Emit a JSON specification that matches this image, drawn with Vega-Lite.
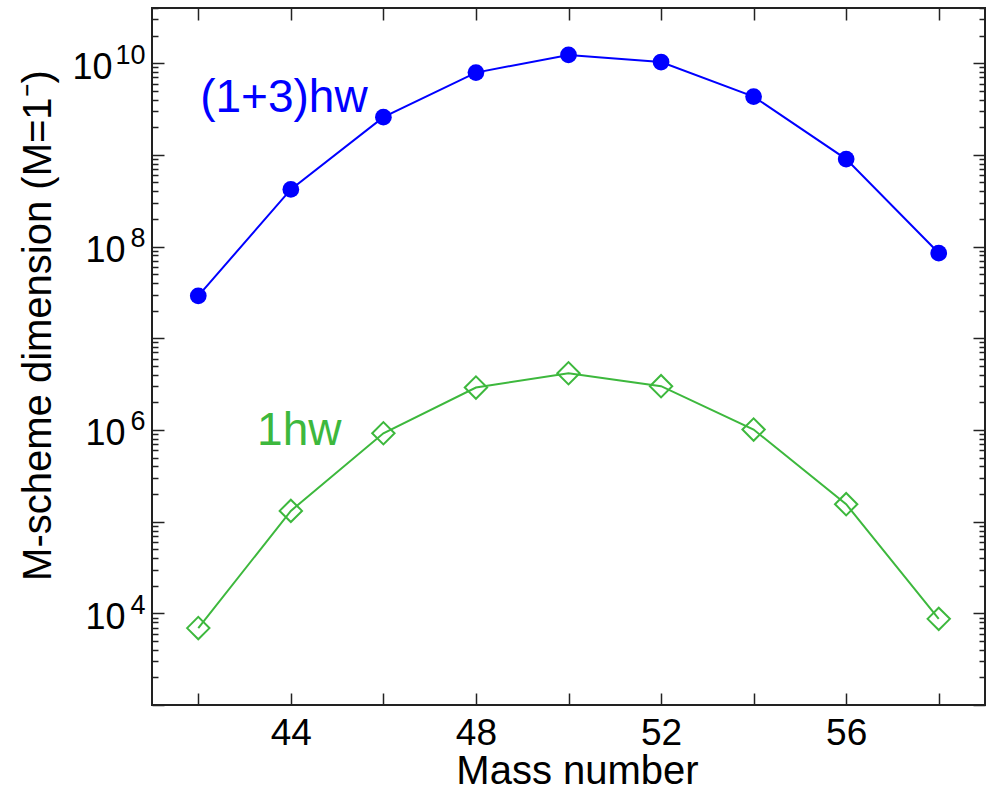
{
  "$schema": "https://vega.github.io/schema/vega-lite/v6.json",
  "width": 833,
  "height": 697,
  "autosize": {"type": "none"},
  "padding": {"left": 152, "top": 8, "right": 7, "bottom": 83},
  "background": "white",
  "datasets": {
    "dims": [
      {"A": 42, "dim": 2.9e7, "series": "(1+3)hw"},
      {"A": 44, "dim": 4.2e8, "series": "(1+3)hw"},
      {"A": 46, "dim": 2.58e9, "series": "(1+3)hw"},
      {"A": 48, "dim": 7.9e9, "series": "(1+3)hw"},
      {"A": 50, "dim": 1.23e10, "series": "(1+3)hw"},
      {"A": 52, "dim": 1.03e10, "series": "(1+3)hw"},
      {"A": 54, "dim": 4.32e9, "series": "(1+3)hw"},
      {"A": 56, "dim": 9.0e8, "series": "(1+3)hw"},
      {"A": 58, "dim": 8.5e7, "series": "(1+3)hw"},
      {"A": 42, "dim": 6.9e3, "series": "1hw"},
      {"A": 44, "dim": 1.31e5, "series": "1hw"},
      {"A": 46, "dim": 9.2e5, "series": "1hw"},
      {"A": 48, "dim": 2.9e6, "series": "1hw"},
      {"A": 50, "dim": 4.15e6, "series": "1hw"},
      {"A": 52, "dim": 3.0e6, "series": "1hw"},
      {"A": 54, "dim": 1.01e6, "series": "1hw"},
      {"A": 56, "dim": 1.55e5, "series": "1hw"},
      {"A": 58, "dim": 8.7e3, "series": "1hw"}
    ],
    "labels": [
      {"A": 42.04, "dim": 2.97e9, "series": "(1+3)hw", "text": "(1+3)hw"},
      {"A": 43.27, "dim": 6.85e5, "series": "1hw", "text": "1hw"}
    ]
  },
  "layer": [
    {
      "data": {"name": "dims"},
      "mark": {"type": "line", "strokeWidth": 2},
      "encoding": {
        "x": {
          "field": "A", "type": "quantitative",
          "scale": {"domain": [41, 59], "nice": false, "zero": false},
          "axis": {
            "orient": "bottom",
            "values": [42, 44, 46, 48, 50, 52, 54, 56, 58],
            "labelExpr": "datum.value % 4 == 0 ? datum.label : ''",
            "labelFontSize": 37,
            "tickSize": -12,
            "labelPadding": 22,
            "labelOverlap": false,
            "labelFlush": false,
            "title": "Mass number",
            "titleFontSize": 40,
            "titleX": 425,
            "titleY": 78,
            "titleBaseline": "alphabetic",
            "titleAnchor": "middle",
            "titleAlign": "center"
          }
        },
        "y": {
          "field": "dim", "type": "quantitative",
          "scale": {"type": "log", "domain": [1000, 4e10], "nice": false},
          "axis": {
            "orient": "left",
            "values": [1000, 10000, 100000, 1000000, 10000000, 100000000, 1000000000, 10000000000],
            "labelExpr": "datum.value == 10000 || datum.value == 1000000 || datum.value == 100000000 ? '10' : ''",
            "labelFontSize": 36,
            "labelOffset": 4,
            "tickSize": -12,
            "labelPadding": 39,
            "labelOverlap": false,
            "labelFlush": false,
            "title": "M-scheme dimension (M=1⁻)",
            "titleFontSize": 40,
            "titleAngle": -90,
            "titleX": -102,
            "titleY": 317,
            "titleBaseline": "alphabetic",
            "titleAlign": "center",
            "titleAnchor": "middle"
          }
        },
        "color": {
          "field": "series", "type": "nominal",
          "scale": {"domain": ["(1+3)hw", "1hw"], "range": ["#0000ff", "#3db83d"]},
          "legend": null
        }
      }
    },
    {
      "data": {"name": "dims"},
      "transform": [{"filter": "datum.series == '(1+3)hw'"}],
      "mark": {"type": "point", "shape": "circle", "filled": true, "size": 280, "opacity": 1},
      "encoding": {
        "x": {
          "field": "A", "type": "quantitative",
          "scale": {"domain": [41, 59], "nice": false, "zero": false},
          "axis": {
            "orient": "top",
            "values": [42, 44, 46, 48, 50, 52, 54, 56, 58],
            "labels": false,
            "tickSize": -12,
            "title": null
          }
        },
        "y": {
          "field": "dim", "type": "quantitative",
          "scale": {"type": "log", "domain": [1000, 4e10], "nice": false},
          "axis": {
            "orient": "right",
            "values": [1000, 10000, 100000, 1000000, 10000000, 100000000, 1000000000, 10000000000],
            "labels": false,
            "tickSize": -12,
            "title": null
          }
        },
        "color": {"field": "series", "type": "nominal", "legend": null}
      }
    },
    {
      "data": {"name": "dims"},
      "transform": [{"filter": "datum.series == '1hw'"}],
      "mark": {"type": "point", "shape": "diamond", "filled": false, "size": 500, "strokeWidth": 2, "opacity": 1},
      "encoding": {
        "x": {
          "field": "A", "type": "quantitative",
          "scale": {"domain": [41, 59], "nice": false, "zero": false},
          "axis": null
        },
        "y": {
          "field": "dim", "type": "quantitative",
          "scale": {"type": "log", "domain": [1000, 4e10], "nice": false},
          "axis": {
            "orient": "left",
            "values": [2000, 3000, 4000, 5000, 6000, 7000, 8000, 9000, 20000, 30000, 40000, 50000, 60000, 70000, 80000, 90000, 200000, 300000, 400000, 500000, 600000, 700000, 800000, 900000, 2000000, 3000000, 4000000, 5000000, 6000000, 7000000, 8000000, 9000000, 20000000, 30000000, 40000000, 50000000, 60000000, 70000000, 80000000, 90000000, 200000000, 300000000, 400000000, 500000000, 600000000, 700000000, 800000000, 900000000, 2000000000, 3000000000, 4000000000, 5000000000, 6000000000, 7000000000, 8000000000, 9000000000, 20000000000, 30000000000, 40000000000],
            "labels": false,
            "tickSize": -6,
            "title": null
          }
        },
        "color": {"field": "series", "type": "nominal", "legend": null}
      }
    },
    {
      "data": {"name": "labels"},
      "mark": {"type": "text", "align": "left", "baseline": "alphabetic", "fontSize": 46, "font": "Liberation Sans"},
      "encoding": {
        "x": {
          "field": "A", "type": "quantitative",
          "scale": {"domain": [41, 59], "nice": false, "zero": false},
          "axis": null
        },
        "y": {
          "field": "dim", "type": "quantitative",
          "scale": {"type": "log", "domain": [1000, 4e10], "nice": false},
          "axis": {
            "orient": "right",
            "values": [2000, 3000, 4000, 5000, 6000, 7000, 8000, 9000, 20000, 30000, 40000, 50000, 60000, 70000, 80000, 90000, 200000, 300000, 400000, 500000, 600000, 700000, 800000, 900000, 2000000, 3000000, 4000000, 5000000, 6000000, 7000000, 8000000, 9000000, 20000000, 30000000, 40000000, 50000000, 60000000, 70000000, 80000000, 90000000, 200000000, 300000000, 400000000, 500000000, 600000000, 700000000, 800000000, 900000000, 2000000000, 3000000000, 4000000000, 5000000000, 6000000000, 7000000000, 8000000000, 9000000000, 20000000000, 30000000000, 40000000000],
            "labels": false,
            "tickSize": -6,
            "title": null
          }
        },
        "text": {"field": "text", "type": "nominal"},
        "color": {"field": "series", "type": "nominal", "legend": null}
      }
    },
    {
      "data": {"name": "dims"},
      "mark": {"type": "point", "opacity": 0},
      "encoding": {
        "x": {
          "field": "A", "type": "quantitative",
          "scale": {"domain": [41, 59], "nice": false, "zero": false},
          "axis": null
        },
        "y": {
          "field": "dim", "type": "quantitative",
          "scale": {"type": "log", "domain": [1000, 4e10], "nice": false},
          "axis": {
            "orient": "left",
            "values": [10000000000],
            "labelExpr": "'10'",
            "labelFontSize": 36,
            "labelOffset": 4,
            "labelPadding": 40,
            "labelOverlap": false,
            "labelFlush": false,
            "tickSize": 0,
            "tickOpacity": 0,
            "title": null
          }
        }
      }
    },
    {
      "data": {"name": "dims"},
      "mark": {"type": "point", "opacity": 0},
      "encoding": {
        "x": {
          "field": "A", "type": "quantitative",
          "scale": {"domain": [41, 59], "nice": false, "zero": false},
          "axis": null
        },
        "y": {
          "field": "dim", "type": "quantitative",
          "scale": {"type": "log", "domain": [1000, 4e10], "nice": false},
          "axis": {
            "orient": "left",
            "values": [10000, 1000000, 100000000, 10000000000],
            "labelExpr": "datum.value == 10000 ? '4' : datum.value == 1000000 ? '6' : datum.value == 100000000 ? '8' : '10'",
            "labelFontSize": 27,
            "labelOffset": -8,
            "labelPadding": 7,
            "labelOverlap": false,
            "labelFlush": false,
            "tickSize": 0,
            "tickOpacity": 0,
            "title": null
          }
        }
      }
    }
  ],
  "resolve": {"axis": {"x": "independent", "y": "independent"}},
  "config": {
    "view": {"stroke": "#222222", "strokeWidth": 2},
    "axis": {
      "domain": false,
      "grid": false,
      "ticks": true,
      "tickColor": "#222222",
      "tickWidth": 1.5,
      "labelFont": "Liberation Sans",
      "labelFontSize": 35,
      "labelColor": "#000000",
      "titleFont": "Liberation Sans",
      "titleFontSize": 39,
      "titleFontWeight": "normal",
      "titleColor": "#000000"
    }
  }
}
